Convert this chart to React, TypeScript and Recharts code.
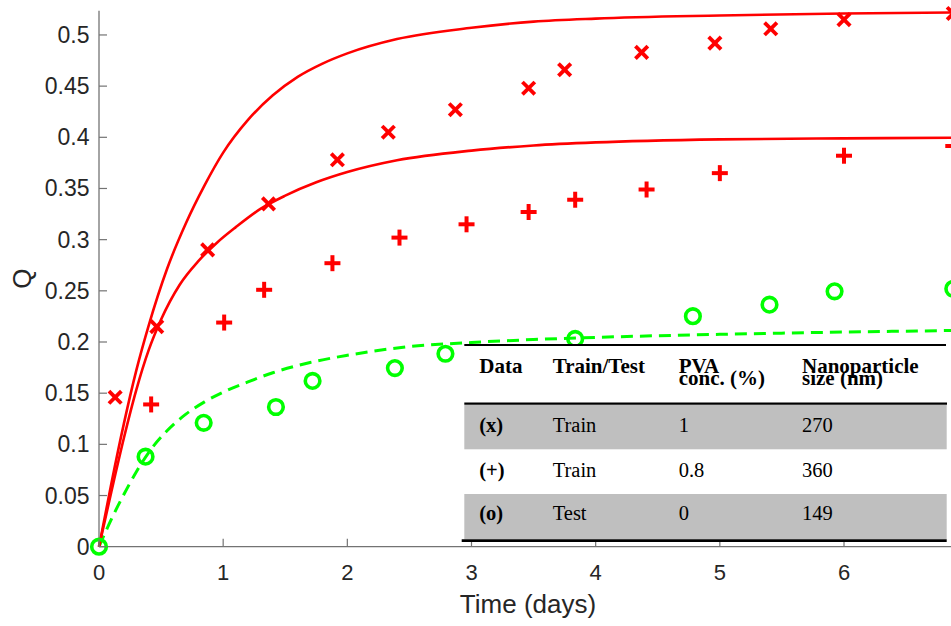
import React from "react";
import { ComposedChart, Line, Scatter, XAxis, YAxis, Label } from "recharts";

// fitted curves
const upperT = [0, 0.1, 0.2, 0.3, 0.4, 0.55, 0.7, 0.85, 1.0, 1.2, 1.4, 1.6, 1.8, 2.0, 2.4, 3.0, 3.5, 4.0, 5.0, 6.0, 6.91];
const upperQ = [0, 0.062, 0.12, 0.172, 0.216, 0.272, 0.316, 0.353, 0.385, 0.417, 0.441, 0.459, 0.472, 0.482, 0.496, 0.507, 0.513, 0.516, 0.519, 0.521, 0.522];

const lowerT = [0, 0.1, 0.2, 0.3, 0.4, 0.5, 0.65, 0.8, 0.95, 1.1, 1.3, 1.5, 1.75, 2.0, 2.4, 3.0, 3.5, 4.0, 5.0, 6.0, 6.91];
const lowerQ = [0, 0.054, 0.106, 0.153, 0.192, 0.222, 0.256, 0.279, 0.297, 0.312, 0.33, 0.343, 0.356, 0.366, 0.3775, 0.387, 0.392, 0.395, 0.398, 0.399, 0.3996];

const testT = [0, 0.1, 0.2, 0.3, 0.4, 0.55, 0.7, 0.85, 1.0, 1.2, 1.4, 1.7, 2.0, 2.5, 3.0, 3.5, 4.0, 5.0, 6.0, 6.91];
const testQ = [0, 0.027, 0.051, 0.073, 0.092, 0.1135, 0.1295, 0.1415, 0.151, 0.161, 0.17, 0.18, 0.187, 0.1955, 0.1995, 0.2024, 0.2045, 0.2075, 0.2097, 0.2113];

// measured points
const crossT = [0.13, 0.465, 0.875, 1.365, 1.92, 2.33, 2.87, 3.46, 3.75, 4.37, 4.96, 5.41, 6.0, 6.88];
const crossQ = [0.146, 0.215, 0.29, 0.335, 0.378, 0.405, 0.427, 0.448, 0.466, 0.483, 0.492, 0.506, 0.515, 0.521];

const plusT = [0.42, 1.008, 1.33, 1.88, 2.42, 2.96, 3.46, 3.835, 4.41, 5.0, 6.0, 6.88];
const plusQ = [0.139, 0.219, 0.251, 0.277, 0.302, 0.315, 0.327, 0.339, 0.349, 0.365, 0.382, 0.3915];

const circT = [0, 0.375, 0.843, 1.425, 1.72, 2.383, 2.79, 3.835, 4.783, 5.4, 5.924, 6.88];
const circQ = [0, 0.088, 0.121, 0.1365, 0.162, 0.1745, 0.1885, 0.203, 0.2252, 0.2365, 0.2495, 0.252];

const X_TICKS = [0, 1, 2, 3, 4, 5, 6];
const Y_TICKS = [0, 0.05, 0.1, 0.15, 0.2, 0.25, 0.3, 0.35, 0.4, 0.45, 0.5];
const X_MAX = 6.91;
const Y_MAX = 0.5237;

// inset table
const HEAD_1 = ["Data", "Train/Test", "PVA", "Nanoparticle"];
const HEAD_2 = ["", "", "conc. (%)", "size (nm)"];
const ROW_DATA = ["(x)", "(+)", "(o)"];
const ROW_SET = ["Train", "Train", "Test"];
const ROW_PVA = ["1", "0.8", "0"];
const ROW_SIZE = ["270", "360", "149"];

const zip = (ts: number[], qs: number[]) => ts.map((t, i) => ({ t, q: qs[i] }));

const RED = "#ff0000";
const GREEN = "#00ff00";
const AXIS = "#737373";
const TXT = "#262626";
const SANS = "'Liberation Sans', Arial, Helvetica, sans-serif";
const SERIF = "'Liberation Serif', 'Times New Roman', serif";
const TICK = 8;

const fmtY = (v: number) => (v === 0 ? "0" : String(Number(v.toFixed(2))));

const bottomTick = (p: any) => (
  <g>
    <line x1={p.x} y1={p.y} x2={p.x} y2={p.y - TICK} stroke={AXIS} strokeWidth={1.2} />
    <text x={p.x} y={p.y + 33.5} textAnchor="middle" fontSize={22} fill={TXT} fontFamily={SANS}>
      {p.payload.value}
    </text>
  </g>
);
const topTick = (p: any) => (
  <line x1={p.x} y1={p.y} x2={p.x} y2={p.y + TICK} stroke={AXIS} strokeWidth={1.2} />
);
const leftTick = (p: any) => (
  <g>
    <line x1={p.x} y1={p.y} x2={p.x + TICK} y2={p.y} stroke={AXIS} strokeWidth={1.2} />
    <text x={p.x - 9.5} y={p.y + 8} textAnchor="end" fontSize={23} fill={TXT} fontFamily={SANS}>
      {fmtY(p.payload.value)}
    </text>
  </g>
);
const rightTick = (p: any) => (
  <line x1={p.x} y1={p.y} x2={p.x - TICK} y2={p.y} stroke={AXIS} strokeWidth={1.2} />
);

const crossShape = (p: any) => (
  <g stroke={RED} strokeWidth={3.8}>
    <line x1={p.cx - 6.2} y1={p.cy - 6.2} x2={p.cx + 6.2} y2={p.cy + 6.2} />
    <line x1={p.cx - 6.2} y1={p.cy + 6.2} x2={p.cx + 6.2} y2={p.cy - 6.2} />
  </g>
);
const plusShape = (p: any) => (
  <g stroke={RED} strokeWidth={4}>
    <line x1={p.cx - 8} y1={p.cy} x2={p.cx + 8} y2={p.cy} />
    <line x1={p.cx} y1={p.cy - 8} x2={p.cx} y2={p.cy + 8} />
  </g>
);
const circShape = (p: any) => (
  <circle cx={p.cx} cy={p.cy} r={7.3} fill="none" stroke={GREEN} strokeWidth={3.6} />
);

function InsetTable() {
  const cols = [479.3, 552.7, 678.7, 802];
  const rowBase = [431.7, 476.7, 520];
  return (
    <svg
      width={951}
      height={626}
      style={{ position: "absolute", left: 0, top: 0, pointerEvents: "none" }}
    >
      <rect x={462} y={345} width={485} height={196} fill="#fff" />
      <rect x={464.3} y={405} width={482.4} height={44.3} fill="#bfbfbf" />
      <rect x={464.3} y={494} width={482.4} height={45.3} fill="#bfbfbf" />
      <line x1={464.3} y1={345} x2={946} y2={345} stroke="#000" strokeWidth={2.2} />
      <line x1={464.3} y1={403.7} x2={947} y2={403.7} stroke="#000" strokeWidth={2.2} />
      <line x1={461.7} y1={540.7} x2={946.7} y2={540.7} stroke="#000" strokeWidth={2.8} />
      <g fontFamily={SERIF} fill="#000">
        {HEAD_1.map((h, i) => (
          <text key={"h1" + i} x={cols[i]} y={373} fontSize={21} fontWeight="bold">
            {h}
          </text>
        ))}
        {HEAD_2.map((h, i) => (
          <text key={"h2" + i} x={cols[i]} y={385} fontSize={21} fontWeight="bold">
            {h}
          </text>
        ))}
        {ROW_DATA.map((d, r) => (
          <g key={"r" + r} fontSize={20.5}>
            <text x={cols[0]} y={rowBase[r]} fontWeight="bold">
              {d}
            </text>
            <text x={cols[1]} y={rowBase[r]}>{ROW_SET[r]}</text>
            <text x={cols[2]} y={rowBase[r]}>{ROW_PVA[r]}</text>
            <text x={cols[3]} y={rowBase[r]}>{ROW_SIZE[r]}</text>
          </g>
        ))}
      </g>
    </svg>
  );
}

export default function App() {
  return (
    <div
      style={{
        position: "absolute",
        left: 0,
        top: 0,
        width: 951,
        height: 626,
        overflow: "hidden",
        background: "#fff",
      }}
    >
      <ComposedChart width={958} height={626} margin={{ top: 10.7, right: 1, bottom: 0, left: 0 }}>
        <XAxis
          xAxisId="b"
          type="number"
          dataKey="t"
          domain={[0, X_MAX]}
          ticks={X_TICKS}
          interval={0}
          height={79.3}
          tickSize={0}
          tickMargin={0}
          tickLine={false}
          tick={bottomTick}
          axisLine={{ stroke: AXIS, strokeWidth: 1.3 }}
        >
          <Label
            value="Time (days)"
            position="insideBottom"
            offset={13}
            style={{ fontSize: 26, fill: TXT, fontFamily: SANS }}
          />
        </XAxis>
        <XAxis
          xAxisId="t"
          orientation="top"
          type="number"
          dataKey="t"
          domain={[0, X_MAX]}
          ticks={X_TICKS}
          interval={0}
          height={0}
          tickSize={0}
          tickMargin={0}
          tickLine={false}
          tick={topTick}
          axisLine={{ stroke: AXIS, strokeWidth: 1.3 }}
        />
        <YAxis
          yAxisId="l"
          type="number"
          dataKey="q"
          domain={[0, Y_MAX]}
          ticks={Y_TICKS}
          interval={0}
          width={99}
          tickSize={0}
          tickMargin={0}
          tickLine={false}
          tick={leftTick}
          axisLine={{ stroke: AXIS, strokeWidth: 1.3 }}
        >
          <Label
            value="Q"
            position="center"
            angle={-90}
            dx={-27.5}
            style={{ fontSize: 26, fill: TXT, fontFamily: SANS }}
          />
        </YAxis>
        <YAxis
          yAxisId="r"
          orientation="right"
          type="number"
          dataKey="q"
          domain={[0, Y_MAX]}
          ticks={Y_TICKS}
          interval={0}
          width={0}
          tickSize={0}
          tickMargin={0}
          tickLine={false}
          tick={rightTick}
          axisLine={{ stroke: AXIS, strokeWidth: 1.3 }}
        />

        <Line xAxisId="b" yAxisId="l" data={zip(testT, testQ)} dataKey="q" type="monotone"
          stroke={GREEN} strokeWidth={3} strokeDasharray="12 7" dot={false} activeDot={false}
          isAnimationActive={false} />
        <Scatter xAxisId="b" yAxisId="l" data={zip(circT, circQ)} shape={circShape} isAnimationActive={false} />
        <Line xAxisId="b" yAxisId="l" data={zip(upperT, upperQ)} dataKey="q" type="monotone"
          stroke={RED} strokeWidth={2.6} dot={false} activeDot={false} isAnimationActive={false} />
        <Line xAxisId="b" yAxisId="l" data={zip(lowerT, lowerQ)} dataKey="q" type="monotone"
          stroke={RED} strokeWidth={2.6} dot={false} activeDot={false} isAnimationActive={false} />
        <Scatter xAxisId="b" yAxisId="l" data={zip(plusT, plusQ)} shape={plusShape} isAnimationActive={false} />
        <Scatter xAxisId="b" yAxisId="l" data={zip(crossT, crossQ)} shape={crossShape} isAnimationActive={false} />
      </ComposedChart>
      <InsetTable />
    </div>
  );
}
